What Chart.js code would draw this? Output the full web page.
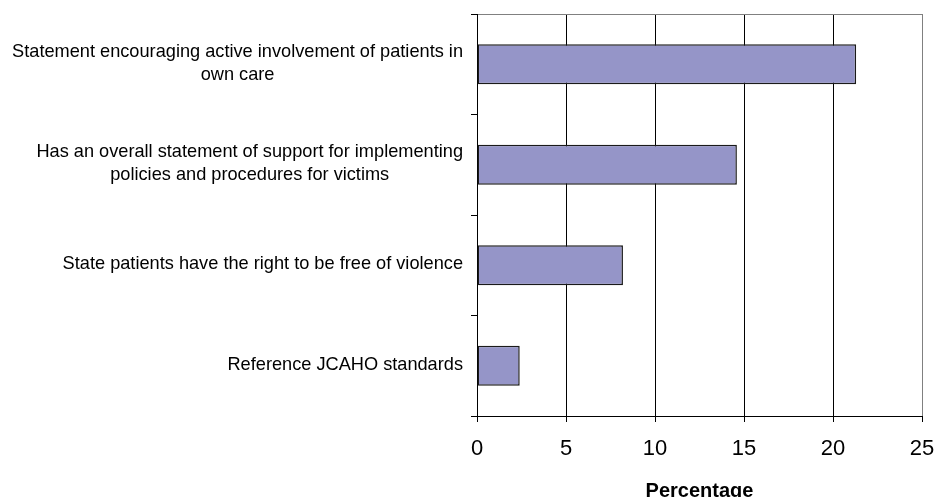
<!DOCTYPE html>
<html>
<head>
<meta charset="utf-8">
<script src="https://cdn.jsdelivr.net/npm/chart.js@4.4.1/dist/chart.umd.min.js"></script>
<style>
    html, body { margin: 0; padding: 0; background: #fff; }
    canvas { display: block; }
</style>
</head>
<body>
<canvas id="chartPolicy" width="936" height="497"></canvas>
<script>
// Categories (each an array of label lines), values and x ticks
const categories = [
    ['Statement encouraging active involvement of patients in', 'own care'],
    ['Has an overall statement of support for implementing', 'policies and procedures for victims'],
    ['State patients have the right to be free of violence'],
    ['Reference JCAHO standards']
];
const percentages = [21.3, 14.6, 8.2, 2.4];
const xTicks = [0, 5, 10, 15, 20, 25];
const xTitle = 'Percentage';

const FONT = 'Arial, "Liberation Sans", sans-serif';

// Category labels: each block right-aligned, its lines centred
const leftLabels = {
    id: 'leftLabels',
    afterDraw(chart) {
        const ctx = chart.ctx;
        const yScale = chart.scales.y;
        ctx.save();
        ctx.font = '18.2px ' + FONT;
        ctx.fillStyle = '#000';
        ctx.textBaseline = 'middle';
        ctx.textAlign = 'center';
        const right = yScale.right - 14;
        const lineGap = 23;
        categories.forEach((lines, i) => {
            const widest = Math.max(...lines.map(t => ctx.measureText(t).width));
            const cx = right - widest / 2;
            const cy = yScale.getPixelForTick(i) - 1;
            const y0 = cy - (lines.length - 1) * lineGap / 2;
            lines.forEach((t, j) => ctx.fillText(t, cx, y0 + j * lineGap));
        });
        ctx.restore();
    }
};

const ctxPolicy = document.getElementById('chartPolicy');
if (ctxPolicy) {
    new Chart(ctxPolicy.getContext('2d'), {
        type: 'bar',
        data: {
            labels: categories,
            datasets: [{
                data: percentages,
                backgroundColor: '#9595C8',
                borderColor: '#1a1a1a',
                borderWidth: 1.5,
                borderSkipped: false,
                barPercentage: 0.4,
                categoryPercentage: 1.0
            }]
        },
        options: {
            indexAxis: 'y',
            responsive: false,
            animation: false,
            layout: { padding: { top: 14, right: 1, left: 0, bottom: 0 } },
            plugins: {
                legend: { display: false },
                tooltip: { enabled: false }
            },
            scales: {
                x: {
                    min: 0,
                    max: 25,
                    afterBuildTicks: s => { s.ticks = xTicks.map(v => ({ value: v })); },
                    afterFit: s => {
                        s.height = 81;
                        s.paddingLeft = 0;
                        s.paddingRight = 14;
                    },
                    grid: {
                        color: c => (c.tick && c.tick.value === 25) ? '#808080' : '#000',
                        tickColor: '#000',
                        tickLength: 6,
                        lineWidth: 1
                    },
                    border: { color: '#000', width: 1 },
                    ticks: {
                        color: '#000',
                        font: { family: FONT, size: 22 },
                        padding: 14,
                        maxRotation: 0
                    },
                    title: {
                        display: true,
                        text: xTitle,
                        color: '#000',
                        font: { family: FONT, size: 20, weight: 'bold', lineHeight: 1 },
                        padding: { top: 0, bottom: -4 }
                    }
                },
                y: {
                    afterFit: s => { s.width = 477; },
                    grid: {
                        offset: true,
                        color: c => c.index === 0 ? '#808080' : 'rgba(0,0,0,0)',
                        tickColor: '#000',
                        tickLength: 6
                    },
                    border: { color: '#000', width: 1 },
                    ticks: { display: false }
                }
            }
        },
        plugins: [leftLabels]
    });
}
</script>
</body>
</html>
